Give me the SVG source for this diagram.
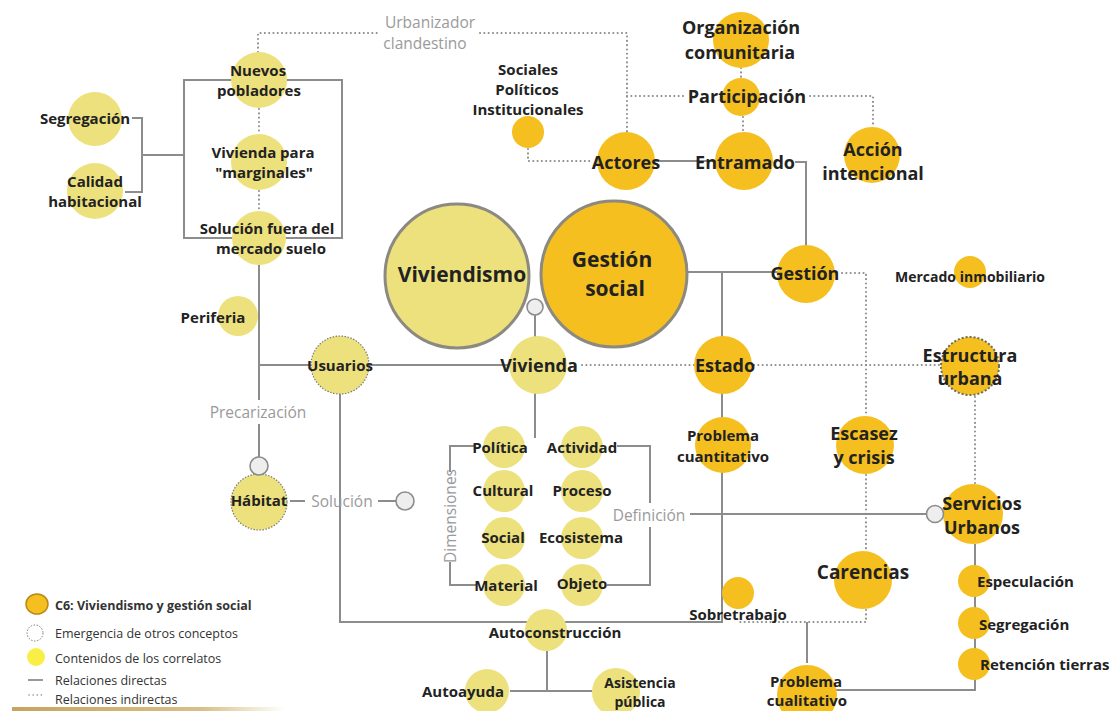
<svg xmlns="http://www.w3.org/2000/svg" width="1116" height="711" viewBox="0 0 1116 711">
<defs>
<style>
.t{font-family:"Open Sans","Liberation Sans",sans-serif;font-weight:700;fill:#222;text-anchor:middle;dominant-baseline:central}
.s15{font-size:15px}.s18{font-size:18px}.s21{font-size:21px}.s14{font-size:14px}
.g{font-family:"Open Sans","Liberation Sans",sans-serif;font-weight:400;fill:#9a9a9a;font-size:15.5px;text-anchor:middle;dominant-baseline:central}
.lg{font-family:"Open Sans","Liberation Sans",sans-serif;font-size:12.5px;fill:#333;dominant-baseline:central}
.o{fill:#F5BF20}
.y{fill:#EDE17E}
.big{stroke:#8c8a80;stroke-width:3}
.dot{stroke:#7a7a70;stroke-width:1.2;stroke-dasharray:1.5 1.5}
.sm{fill:#eeeeee;stroke:#8c8c8c;stroke-width:1.6}
.ln{fill:none;stroke:#8c8c8c;stroke-width:2}
.dl{fill:none;stroke:#8c8c8c;stroke-width:2;stroke-dasharray:0.1 4.2;stroke-linecap:round}
</style>
<linearGradient id="bar" x1="0" x2="1" y1="0" y2="0">
<stop offset="0" stop-color="#c7a45e"/>
<stop offset="0.7" stop-color="#d8c08a"/>
<stop offset="1" stop-color="#ffffff"/>
</linearGradient>
</defs>
<rect width="1116" height="711" fill="#ffffff"/>

<g id="connectors">
<path class="ln" d="M132,118 H142 V192 H125 M142,155 H184"/>
<rect class="ln" x="184" y="80" width="158" height="158"/>
<path class="ln" d="M259,265 V400 M259,424 V457"/>
<path class="ln" d="M259,365 H510"/>
<path class="ln" d="M340,394 V622 H722 V272 M640,272 H800"/>
<path class="ln" d="M535,315 V338 M535,393 V438"/>
<path class="ln" d="M655,161 H716 M795,162 H806 V246"/>
<path class="ln" d="M290,501 H305 M378,501 H396"/>
<path class="ln" d="M474,446 H450 V472 M450,562 V585 H476"/>
<path class="ln" d="M617,446 H650 V503 M650,527 V585 H607"/>
<path class="ln" d="M690,514 H927"/>
<path class="ln" d="M975,544 V690 H836"/>
<path class="ln" d="M547,651 V691 M510,691 H592"/>
<path class="ln" d="M807,622 V663"/>
<path class="dl" d="M258,52 V33 H380 M480,33 H627 V132"/>
<path class="dl" d="M627,96 H686 M810,96 H873 V127"/>
<path class="dl" d="M741,68 V79 M743,117 V132"/>
<path class="dl" d="M528,149 V161 H590"/>
<path class="dl" d="M842,273 H866 V416 M866,475 V550 M866,610 V622 H740"/>
<path class="dl" d="M582,365 H940"/>
<path class="dl" d="M259,109 V134 M259,191 V211"/>
<path class="dl" d="M975,397 V484"/>
</g>

<g id="urbanizador"><text class="g" x="430" y="22">Urbanizador</text><text class="g" x="425" y="43">clandestino</text></g>
<g id="precarizacion"><text class="g" x="258" y="412">Precarización</text></g>
<g id="solucion-lbl"><text class="g" x="342" y="501">Solución</text></g>
<g id="definicion"><text class="g" x="649" y="515">Definición</text></g>
<g id="dimensiones"><text class="g" transform="translate(450,516) rotate(-90)" x="0" y="0">Dimensiones</text></g>

<g id="segregacion1"><circle class="y" cx="95" cy="119" r="27"/><text class="t s15" x="85" y="118">Segregación</text></g>
<g id="calidad"><circle class="y" cx="95" cy="191" r="28"/><text class="t s15" x="95" y="181">Calidad</text><text class="t s15" x="95" y="201">habitacional</text></g>
<g id="nuevos"><circle class="y" cx="259" cy="80" r="28"/><text class="t s15" x="258" y="70">Nuevos</text><text class="t s15" x="259" y="90">pobladores</text></g>
<g id="vivmarg"><circle class="y" cx="259" cy="162" r="28"/><text class="t s15" x="263" y="152">Vivienda para</text><text class="t s15" x="264" y="172">"marginales"</text></g>
<g id="solucionfuera"><circle class="y" cx="259" cy="238" r="27"/><text class="t s15" x="267" y="228">Solución fuera del</text><text class="t s15" x="271" y="248">mercado suelo</text></g>
<g id="periferia"><circle class="y" cx="238" cy="316" r="20"/><text class="t s15" x="213" y="317">Periferia</text></g>
<g id="usuarios"><circle class="y dot" cx="340" cy="365" r="29"/><text class="t s15" x="340" y="365">Usuarios</text></g>
<g id="habitat"><circle class="y dot" cx="259" cy="502" r="28"/><text class="t s15" x="259" y="500">Hábitat</text></g>
<g id="sm1"><circle class="sm" cx="259" cy="466" r="9"/></g>
<g id="sm2"><circle class="sm" cx="405" cy="501" r="9"/></g>

<g id="viviendismo"><circle class="y big" cx="457" cy="276" r="72" fill="#EEE38A"/><text class="t s21" x="462" y="274">Viviendismo</text></g>
<g id="gestionsocial"><circle class="o big" cx="614" cy="274" r="73"/><text class="t s21" x="612" y="259">Gestión</text><text class="t s21" x="615" y="288">social</text></g>
<g id="sm3"><circle class="sm" cx="535" cy="307" r="8"/></g>
<g id="vivienda"><circle class="y" cx="538" cy="365" r="29"/><text class="t s18" x="539" y="365">Vivienda</text></g>

<g id="politica"><circle class="y" cx="504" cy="447" r="21"/><text class="t s15" x="500" y="447">Política</text></g>
<g id="actividad"><circle class="y" cx="582" cy="447" r="21"/><text class="t s15" x="582" y="447">Actividad</text></g>
<g id="cultural"><circle class="y" cx="504" cy="491" r="21"/><text class="t s15" x="503" y="490">Cultural</text></g>
<g id="proceso"><circle class="y" cx="582" cy="491" r="21"/><text class="t s15" x="582" y="490">Proceso</text></g>
<g id="social"><circle class="y" cx="504" cy="538" r="21"/><text class="t s15" x="503" y="537">Social</text></g>
<g id="ecosistema"><circle class="y" cx="582" cy="538" r="21"/><text class="t s15" x="581" y="537">Ecosistema</text></g>
<g id="material"><circle class="y" cx="504" cy="585" r="21"/><text class="t s15" x="506" y="585">Material</text></g>
<g id="objeto"><circle class="y" cx="582" cy="585" r="21"/><text class="t s15" x="582" y="583">Objeto</text></g>

<g id="autoconstruccion"><circle class="y" cx="546" cy="630" r="21"/><text class="t s15" x="555" y="632">Autoconstrucción</text></g>
<g id="autoayuda"><circle class="y" cx="487" cy="691" r="22"/><text class="t s15" x="463" y="691">Autoayuda</text></g>
<g id="asistencia"><circle class="y" cx="616" cy="692" r="24"/><text class="t s14" x="640" y="682">Asistencia</text><text class="t s14" x="640" y="701">pública</text></g>
<g id="sobretrabajo"><circle class="o" cx="738" cy="593" r="16"/><text class="t s15" x="738" y="614">Sobretrabajo</text></g>

<g id="sociales"><circle class="o" cx="528" cy="132" r="16"/><text class="t s15" x="528" y="69">Sociales</text><text class="t s15" x="527" y="89">Políticos</text><text class="t s15" x="528" y="109">Institucionales</text></g>
<g id="actores"><circle class="o" cx="626" cy="161" r="29"/><text class="t s18" x="626" y="162">Actores</text></g>
<g id="entramado"><circle class="o" cx="744" cy="161" r="29"/><text class="t s18" x="745" y="162">Entramado</text></g>
<g id="participacion"><circle class="o" cx="741" cy="97" r="19"/><text class="t s18" x="747" y="96">Participación</text></g>
<g id="organizacion"><circle class="o" cx="741" cy="40" r="28"/><text class="t s18" x="741" y="27">Organización</text><text class="t s18" x="740" y="52">comunitaria</text></g>
<g id="accion"><circle class="o" cx="872" cy="155" r="28"/><text class="t s18" x="873" y="149">Acción</text><text class="t s18" x="873" y="173">intencional</text></g>
<g id="gestion"><circle class="o" cx="806" cy="274" r="29"/><text class="t s18" x="805" y="273">Gestión</text></g>
<g id="mercado"><circle class="o" cx="970" cy="272" r="16"/><text class="t s14" x="970" y="276">Mercado inmobiliario</text></g>
<g id="estado"><circle class="o" cx="723" cy="365" r="29"/><text class="t s18" x="725" y="365">Estado</text></g>
<g id="probcuant"><circle class="o" cx="723" cy="445" r="28"/><text class="t s15" x="723" y="435">Problema</text><text class="t s15" x="723" y="456">cuantitativo</text></g>
<g id="escasez"><circle class="o" cx="865" cy="445" r="29"/><text class="t s18" x="864" y="433">Escasez</text><text class="t s18" x="864" y="457">y crisis</text></g>
<g id="estructura"><circle class="o" cx="970" cy="366" r="29" stroke="#6f6a5a" stroke-width="2" stroke-dasharray="2 2"/><text class="t s18" x="970" y="355">Estructura</text><text class="t s18" x="970" y="378">urbana</text></g>
<g id="servicios"><circle class="o" cx="973" cy="514" r="30"/><text class="t s18" x="982" y="503">Servicios</text><text class="t s18" x="982" y="527">Urbanos</text></g>
<g id="sm4"><circle class="sm" cx="935" cy="514" r="8.5"/></g>
<g id="carencias"><circle class="o" cx="863" cy="580" r="29"/><text class="t" style="font-size:19px" x="863" y="572">Carencias</text></g>
<g id="probcual"><circle class="o" cx="807" cy="695" r="30"/><text class="t s15" x="806" y="681">Problema</text><text class="t s15" x="807" y="700">cualitativo</text></g>
<g id="especulacion"><circle class="o" cx="974" cy="581" r="16"/><text class="t s15" style="text-anchor:start" x="977" y="581">Especulación</text></g>
<g id="segregacion2"><circle class="o" cx="974" cy="623" r="16"/><text class="t s15" style="text-anchor:start" x="979" y="624">Segregación</text></g>
<g id="retencion"><circle class="o" cx="974" cy="664" r="16"/><text class="t s15" style="text-anchor:start" x="980" y="664">Retención tierras</text></g>

<g id="legend">
<ellipse cx="37" cy="604" rx="11" ry="10" fill="#F5BF20" stroke="#b98a1a" stroke-width="1.5"/>
<text class="lg" x="55" y="605" font-weight="700" fill="#222">C6: Viviendismo y gestión social</text>
<circle cx="35" cy="633" r="8" fill="none" stroke="#777" stroke-width="1" stroke-dasharray="1.5 1.5"/>
<text class="lg" x="55" y="633">Emergencia de otros conceptos</text>
<circle cx="36" cy="657" r="9" fill="#F9EE45"/>
<text class="lg" x="55" y="658">Contenidos de los correlatos</text>
<line x1="28" y1="680" x2="43" y2="680" stroke="#777" stroke-width="1.5"/>
<text class="lg" x="55" y="680">Relaciones directas</text>
<path d="M29,695 H45" stroke="#888" stroke-width="1.5" stroke-dasharray="0.1 4" stroke-linecap="round"/>
<text class="lg" x="55" y="699">Relaciones indirectas</text>
<rect x="12" y="707" width="273" height="4" fill="url(#bar)"/>
</g>
</svg>
